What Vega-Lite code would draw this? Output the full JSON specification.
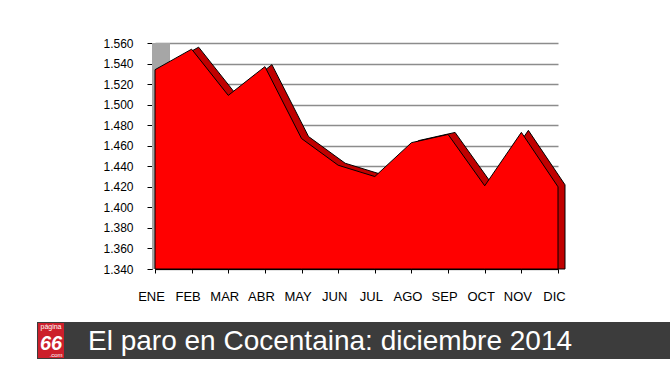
{
  "$schema": "https://vega.github.io/schema/vega-lite/v6.json",
  "padding": {"left": 37, "top": 37, "right": 0, "bottom": 0},
  "spacing": 19,
  "config": {"view": {"stroke": null}, "font": "Liberation Sans"},
  "vconcat": [
    {
      "width": 418,
      "height": 226,
      "data": {"values": [
        {"mes": "ENE", "parados": 1534},
        {"mes": "FEB", "parados": 1554},
        {"mes": "MAR", "parados": 1509},
        {"mes": "ABR", "parados": 1537},
        {"mes": "MAY", "parados": 1467},
        {"mes": "JUN", "parados": 1441},
        {"mes": "JUL", "parados": 1430},
        {"mes": "AGO", "parados": 1463},
        {"mes": "SEP", "parados": 1471},
        {"mes": "OCT", "parados": 1421},
        {"mes": "NOV", "parados": 1473},
        {"mes": "DIC", "parados": 1420}
      ]},
      "encoding": {
        "x": {
          "field": "mes", "type": "ordinal", "sort": null,
          "scale": {"type": "point", "range": [3, 406], "padding": 0},
          "axis": {"title": null, "labelAngle": 0, "tickSize": 4, "labelPadding": 17, "labelFontSize": 13, "labelColor": "#000", "domainColor": "#000", "tickColor": "#000", "labelOffset": -4, "grid": false}
        },
        "y": {
          "field": "parados", "type": "quantitative",
          "scale": {"domain": [1340, 1560], "zero": false, "nice": false},
          "axis": {"title": null, "values": [1340, 1360, 1380, 1400, 1420, 1440, 1460, 1480, 1500, 1520, 1540, 1560], "labelExpr": "replace(format(datum.value, ','), ',', '.')", "grid": true, "gridColor": "#8c8c8c", "gridWidth": 1.5, "domainColor": "#000", "tickColor": "#000", "tickSize": 5, "labelPadding": 14, "labelFontSize": 12, "labelColor": "#000", "minExtent": 115}
        }
      },
      "layer": [
        {
          "mark": {"type": "point", "shape": "M-0.0796,-1H0.0796V1H-0.0796Z", "size": 51076, "filled": true, "color": "#a6a6a6", "opacity": 1, "xOffset": 6},
          "encoding": {"x": {"datum": "ENE", "type": "ordinal"}, "y": {"datum": 1450, "type": "quantitative"}}
        },
        {
          "mark": {"type": "area", "color": "#c00000", "stroke": "#000", "strokeWidth": 1, "xOffset": 7, "yOffset": -2, "opacity": 1},
          "encoding": {"y2": {"datum": 1340}}
        },
        {
          "mark": {"type": "area", "color": "#ff0000", "stroke": "#000", "strokeWidth": 1, "opacity": 1},
          "encoding": {"y2": {"datum": 1340}}
        }
      ]
    },
    {
      "width": 518,
      "height": 37,
      "data": {"values": [{"caption": "El paro en Cocentaina: diciembre 2014", "marca": "66", "arriba": "página", "abajo": ".com"}]},
      "layer": [
        {
          "mark": {"type": "point", "shape": "M-1,-0.05845H1V0.05845H-1Z", "size": 400689, "filled": true, "color": "#3c3c3c", "strokeWidth": 0, "opacity": 1, "xOffset": -57.5},
          "encoding": {}
        },
        {
          "mark": {"type": "point", "shape": "M-0.743,-1H0.743V1H-0.743Z", "size": 1225, "filled": true, "color": "#cc1f2b", "strokeWidth": 0, "opacity": 1, "xOffset": -360},
          "encoding": {}
        },
        {
          "mark": {"type": "text", "align": "left", "baseline": "middle", "fontSize": 28, "color": "#ffffff", "dx": -323, "dy": 1},
          "encoding": {"text": {"field": "caption"}}
        },
        {
          "mark": {"type": "text", "align": "center", "baseline": "middle", "fontSize": 20, "fontWeight": "bold", "fontStyle": "italic", "color": "#ffffff", "dx": -360, "dy": 3},
          "encoding": {"text": {"field": "marca"}}
        },
        {
          "mark": {"type": "text", "align": "center", "baseline": "middle", "fontSize": 7, "color": "#ffffff", "dx": -360, "dy": -13.5},
          "encoding": {"text": {"field": "arriba"}}
        },
        {
          "mark": {"type": "text", "align": "center", "baseline": "middle", "fontSize": 6, "color": "#ffffff", "dx": -355, "dy": 14.5},
          "encoding": {"text": {"field": "abajo"}}
        }
      ]
    }
  ]
}
